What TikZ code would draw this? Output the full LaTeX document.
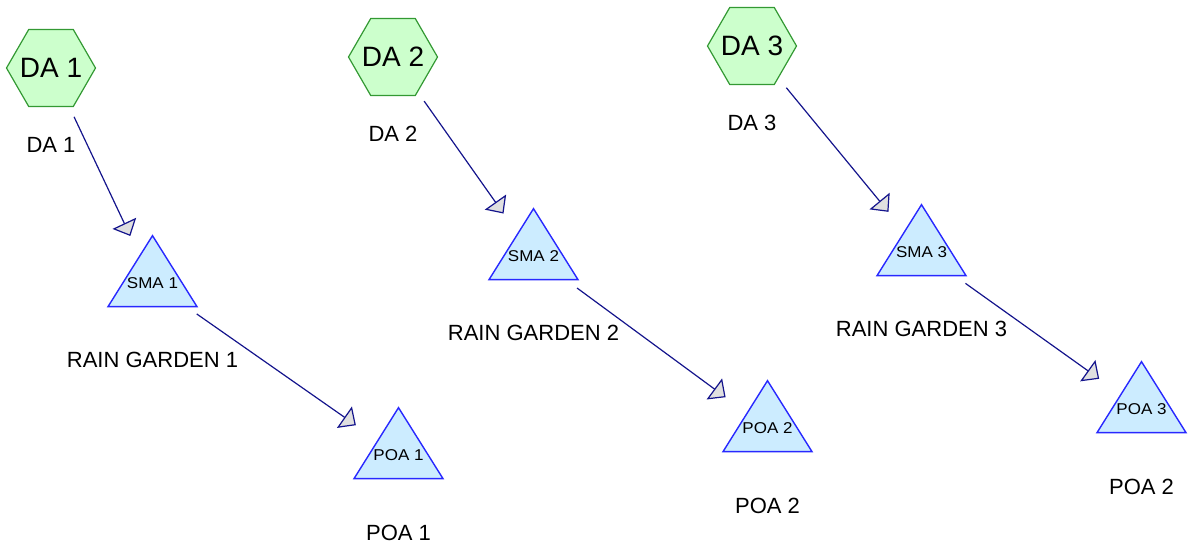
\documentclass[tikz,border=0pt]{standalone}
\usepackage{fontspec}
\setmainfont{Liberation Sans}
\usetikzlibrary{shapes.geometric,positioning,arrows.meta}
\definecolor{dafill}{RGB}{204,255,204}
\definecolor{dadraw}{RGB}{51,153,51}
\definecolor{smafill}{RGB}{204,236,255}
\definecolor{smadraw}{RGB}{40,40,255}
\definecolor{flowcol}{RGB}{20,20,140}
\definecolor{tipfill}{RGB}{224,224,224}
\newcommand\midtext[1]{\makebox[0pt]{#1}}

\begin{document}
\begin{tikzpicture}[x=1pt,y=1pt,
    da/.style={regular polygon,regular polygon sides=6,minimum size=89pt,inner sep=0pt,
        draw=dadraw,fill=dafill,line width=1.2pt,font=\fontsize{28}{30}\selectfont},
    sma/.style={regular polygon,regular polygon sides=3,minimum size=102.8pt,inner sep=0pt,
        yscale=0.921,draw=smadraw,fill=smafill,line width=1.4pt,font=\fontsize{17}{19}\selectfont},
    lbl/.style={inner sep=0pt,text height=16pt,text depth=0pt,font=\fontsize{22}{24}\selectfont},
    flowto/.style={draw=flowcol,line width=1.2pt,shorten <=54pt,shorten >=52pt,
        -{Triangle[length=14pt,width=26pt,fill=tipfill]}}]
    \useasboundingbox (0,0) rectangle (1191,-550);

    \node[da] (da1) at (51,-68) {\midtext{DA 1}};
    \node[da] (da2) at (393,-57) {\midtext{DA 2}};
    \node[da] (da3) at (752,-46) {\midtext{DA 3}};
    \node[lbl,below=29pt of da1] (da1lbl) {DA 1};
    \node[lbl,below=29pt of da2] (da2lbl) {DA 2};
    \node[lbl,below=29pt of da3] (da3lbl) {DA 3};

    \node[sma] (sma1) at (152.5,-283) {\midtext{SMA 1}};
    \node[sma] (sma2) at (533.5,-256) {\midtext{SMA 2}};
    \node[sma] (sma3) at (921.5,-252) {\midtext{SMA 3}};
    \node[lbl,below=44pt of sma1] (rg1) {RAIN GARDEN 1};
    \node[lbl,below=44pt of sma2] (rg2) {RAIN GARDEN 2};
    \node[lbl,below=44pt of sma3] (rg3) {RAIN GARDEN 3};

    \node[sma] (poa1) at (398.5,-455) {\midtext{POA 1}};
    \node[sma] (poa2) at (767.5,-428) {\midtext{POA 2}};
    \node[sma] (poa3) at (1141.5,-409) {\midtext{POA 3}};
    \node[lbl,below=45pt of poa1] (poa1lbl) {POA 1};
    \node[lbl,below=45pt of poa2] (poa2lbl) {POA 2};
    \node[lbl,below=45pt of poa3] (poa3lbl) {POA 2};

    \draw[flowto] (da1.center) -- (sma1.center);
    \draw[flowto] (da2.center) -- (sma2.center);
    \draw[flowto] (da3.center) -- (sma3.center);
    \draw[flowto] (sma1.center) -- (poa1.center);
    \draw[flowto] (sma2.center) -- (poa2.center);
    \draw[flowto] (sma3.center) -- (poa3.center);
\end{tikzpicture}
\end{document}
